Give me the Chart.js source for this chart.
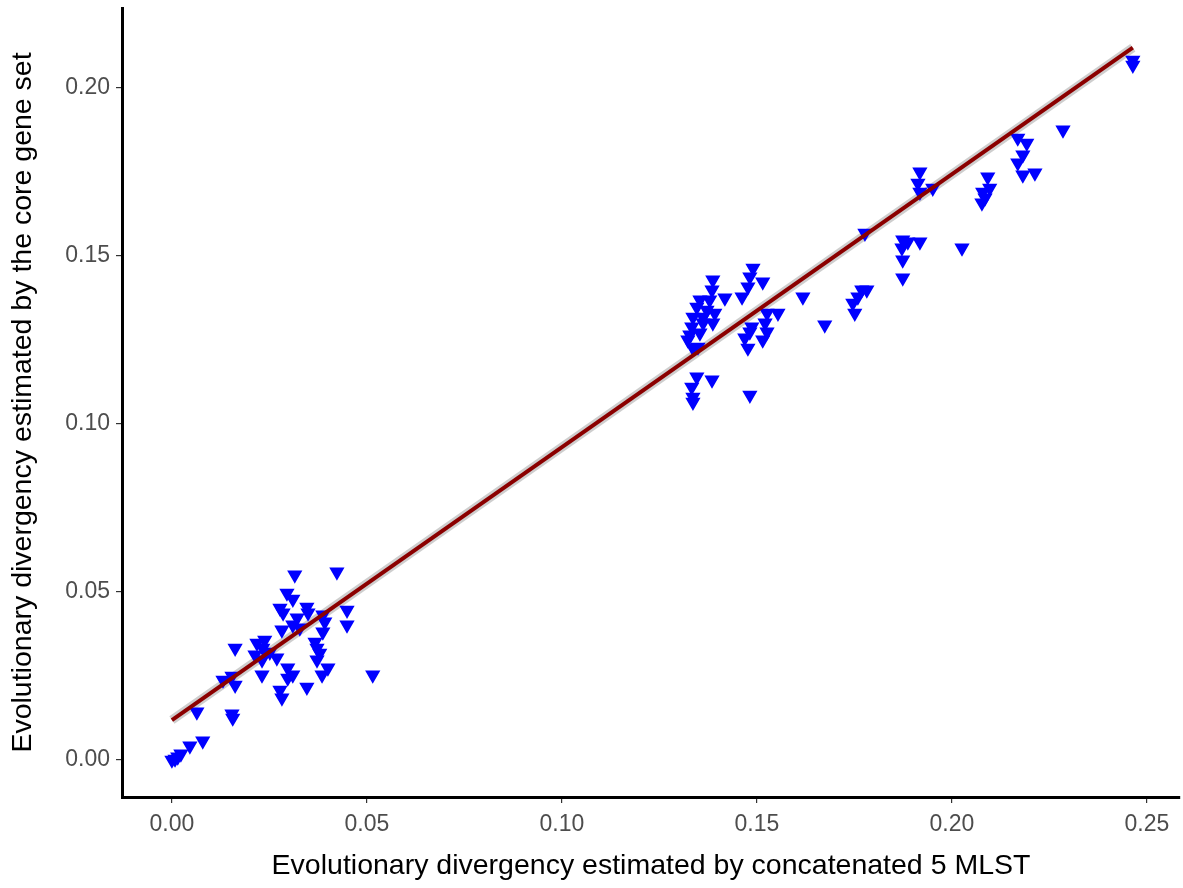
<!DOCTYPE html>
<html lang="en">
<head>
  <meta charset="UTF-8">
  <title>Evolutionary divergency</title>
  <script src="https://cdn.jsdelivr.net/npm/chart.js"></script>
  <style>
    body {
      margin: 0;
      background: #fff;
    }
    #wrap {
      width: 1183px;
      height: 888px;
    }
  </style>
</head>
<body>
  <div id="wrap"><canvas id="chart"></canvas></div>

<script>
// distances (MLST on x, core gene set on y)
const mlstDist = [
  0.0000, 0.0008, 0.0015, 0.0023, 0.0046, 0.0079, 0.0064, 0.0154, 0.0156, 0.0131,
  0.0162, 0.0154, 0.0162, 0.0218, 0.0233, 0.0238, 0.0213, 0.0251, 0.0231, 0.0231,
  0.0269, 0.0297, 0.0310, 0.0297, 0.0277, 0.0282, 0.0346, 0.0315, 0.0423, 0.0295,
  0.0310, 0.0277, 0.0285, 0.0346, 0.0349, 0.0321, 0.0310, 0.0282, 0.0328, 0.0387,
  0.0392, 0.0387, 0.0367, 0.0372, 0.0379, 0.0372, 0.0449, 0.0449, 0.0400, 0.0385,
  0.0515,
  0.1387, 0.1385, 0.1379, 0.1418, 0.1346, 0.1336, 0.1333, 0.1323, 0.1336, 0.1349,
  0.1392, 0.1387, 0.1362, 0.1354, 0.1372, 0.1362, 0.1328, 0.1354, 0.1490, 0.1482,
  0.1477, 0.1462, 0.1515, 0.1526, 0.1521, 0.1526, 0.1515, 0.1487, 0.1482, 0.1469,
  0.1477, 0.1554, 0.1618, 0.1346, 0.1385, 0.1333, 0.1336, 0.1336, 0.1482, 0.1674,
  0.1746, 0.1751, 0.1769, 0.1782, 0.1759, 0.1777, 0.1874, 0.1872, 0.1874, 0.1874,
  0.1887, 0.1918, 0.2026, 0.1918, 0.1913, 0.1918, 0.1951, 0.2092, 0.2079, 0.2097,
  0.2077, 0.2085, 0.2169, 0.2192, 0.2182, 0.2169, 0.2182, 0.2213, 0.2285, 0.2464,
  0.2464
];
const coreDist = [
  0.0000, 0.0003, 0.0009, 0.0018, 0.0042, 0.0057, 0.0143, 0.0137, 0.0125, 0.0238,
  0.0223, 0.0250, 0.0333, 0.0348, 0.0333, 0.0357, 0.0313, 0.0321, 0.0298, 0.0253,
  0.0304, 0.0274, 0.0253, 0.0244, 0.0208, 0.0185, 0.0217, 0.0551, 0.0560, 0.0497,
  0.0479, 0.0452, 0.0438, 0.0455, 0.0438, 0.0423, 0.0402, 0.0387, 0.0393, 0.0432,
  0.0411, 0.0381, 0.0351, 0.0333, 0.0318, 0.0298, 0.0446, 0.0402, 0.0274, 0.0253,
  0.0253,
  0.1429, 0.1399, 0.1369, 0.1375, 0.1348, 0.1318, 0.1289, 0.1250, 0.1226, 0.1229,
  0.1330, 0.1301, 0.1301, 0.1271, 0.1339, 0.1318, 0.1265, 0.1369, 0.1464, 0.1438,
  0.1408, 0.1378, 0.1423, 0.1330, 0.1301, 0.1274, 0.1250, 0.1289, 0.1274, 0.1256,
  0.1226, 0.1330, 0.1378, 0.1140, 0.1131, 0.1110, 0.1080, 0.1065, 0.1086, 0.1295,
  0.1360, 0.1330, 0.1399, 0.1399, 0.1378, 0.1568, 0.1548, 0.1524, 0.1488, 0.1435,
  0.1542, 0.1542, 0.1524, 0.1750, 0.1717, 0.1690, 0.1702, 0.1735, 0.1690, 0.1702,
  0.1658, 0.1673, 0.1851, 0.1836, 0.1801, 0.1777, 0.1741, 0.1747, 0.1875, 0.2083,
  0.2068
];

// linear fit drawn in the picture
const fitIntercept = 0.0119;
const fitSlope = 0.812;
const fitRange = [0, 0.2464];

const xTicks = [0, 0.05, 0.10, 0.15, 0.20, 0.25];
const yTicks = [0, 0.05, 0.10, 0.15, 0.20];

const points = mlstDist.map((x, i) => ({ x: x, y: coreDist[i] }));
const fitLine = fitRange.map(x => ({ x: x, y: fitIntercept + fitSlope * x }));

const tickFont = { family: 'Liberation Sans, Arial, sans-serif', size: 23 };
const titleFont = { family: 'Liberation Sans, Arial, sans-serif', size: 28.5 };

new Chart(document.getElementById('chart'), {
  type: 'scatter',
  data: {
    datasets: [
      {
        data: fitLine,
        type: 'line',
        borderColor: 'rgba(185,185,185,0.7)',
        borderWidth: 9,
        pointRadius: 0,
        order: 3
      },
      {
        data: fitLine,
        type: 'line',
        borderColor: '#8B0000',
        borderWidth: 4,
        pointRadius: 0,
        order: 1
      },
      {
        data: points,
        pointStyle: 'triangle',
        rotation: 180,
        pointRadius: 7,
        pointBackgroundColor: '#0000FF',
        pointBorderColor: '#0000FF',
        pointBorderWidth: 1.8,
        order: 2
      }
    ]
  },
  options: {
    responsive: true,
    maintainAspectRatio: false,
    animation: false,
    layout: {
      autoPadding: false,
      padding: { top: 8, right: 3, left: 0, bottom: 0 }
    },
    plugins: {
      legend: { display: false },
      tooltip: { enabled: false }
    },
    scales: {
      x: {
        type: 'linear',
        min: -0.0128,
        max: 0.2585,
        afterBuildTicks: s => { s.ticks = xTicks.map(v => ({ value: v })); },
        afterFit: s => {
          s.height = 91;
          s.paddingLeft = 0;
          s.paddingRight = 0;
        },
        ticks: {
          font: tickFont,
          color: '#4d4d4d',
          padding: 8,
          maxRotation: 0,
          callback: v => v.toFixed(2)
        },
        grid: {
          drawOnChartArea: false,
          drawTicks: true,
          tickLength: 6,
          tickColor: '#333',
          lineWidth: 1.2
        },
        border: { display: true, color: '#000', width: 3 },
        title: {
          display: true,
          text: 'Evolutionary divergency estimated by concatenated 5 MLST',
          font: titleFont,
          color: '#000',
          padding: { top: 0, bottom: 5 }
        }
      },
      y: {
        type: 'linear',
        min: -0.0110,
        max: 0.2238,
        afterBuildTicks: s => { s.ticks = yTicks.map(v => ({ value: v })); },
        afterFit: s => {
          s.width = 122;
          s.paddingTop = 0;
          s.paddingBottom = 0;
        },
        ticks: {
          font: tickFont,
          color: '#4d4d4d',
          padding: 6,
          callback: v => v.toFixed(2)
        },
        grid: {
          drawOnChartArea: false,
          drawTicks: true,
          tickLength: 6,
          tickColor: '#333',
          lineWidth: 1.2
        },
        border: { display: true, color: '#000', width: 3 },
        title: {
          display: true,
          text: 'Evolutionary divergency estimated by the core gene set',
          font: titleFont,
          color: '#000',
          padding: { top: 6, bottom: 0 }
        }
      }
    }
  }
});
</script>
</body>
</html>
